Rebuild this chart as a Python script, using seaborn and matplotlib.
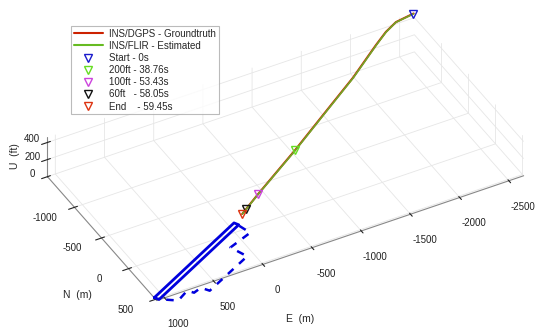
import numpy as np
import pandas as pd
import seaborn as sns
import matplotlib as mpl
import matplotlib.pyplot as plt
from matplotlib.lines import Line2D

sns.set_style("white")
plt.rcParams['font.family'] = ['Liberation Sans', 'DejaVu Sans']
plt.rcParams['axes.unicode_minus'] = False
plt.rcParams['grid.color'] = '#e6e6e6'
plt.rcParams['grid.linewidth'] = 0.6

# trajectory (E, N in m, U in ft)
est_E = [-2639, -2454, -2321, -2170, -1797, -1404, -923, -385, -215, -156]
est_N = [-1498, -1488, -1428, -1333, -1080, -851, -559, -271, -180, -145]
est_U = [450, 430, 410, 385, 330, 265, 200, 100, 60, 50]

gt_E = [-2642, -2457, -2322, -2168, -1795, -1402, -921, -384, -214, -155]
gt_N = [-1500, -1490, -1431, -1335, -1082, -853, -561, -272, -181, -146]
gt_U = [452, 431, 411, 386, 331, 266, 201, 101, 61, 51]

# runway outline and dashed outline on the ground
runway_E = [1078, -60, -84, 1054, 1078]
runway_N = [473, -124, -80, 517, 473]
taxi_E = [-81, -119, 137, 67, 597, 646, 733, 774, 911, 1012]
taxi_N = [-64, 68, 169, 351, 623, 548, 581, 527, 612, 541]

event_names = ['Start - 0s', '200ft - 38.76s', '100ft - 53.43s', '60ft   - 58.05s', 'End    - 59.45s']
event_idx = [0, 6, 7, 8, 9]
event_colors = ['#1a1acc', '#66dd22', '#cc44dd', '#111111', '#dd3311']

df = pd.DataFrame({'E': est_E, 'N': est_N, 'U': est_U})

fig = plt.figure(figsize=(5.5, 3.32), dpi=100)
ax = fig.add_axes([0.011, 0.015, 1, 1], projection='3d')
ax.set_proj_type('ortho')
ax.view_init(elev=38.4, azim=61.3)
ax.set_box_aspect((425, 231, 51), zoom=1.4)

ax.plot(gt_E, gt_N, gt_U, color='#cc2200', lw=1.5)
ax.plot(df['E'], df['N'], df['U'], color='#70a828', lw=1.2)
for i, c in zip(event_idx, event_colors):
    ax.plot([est_E[i]], [est_N[i]], [est_U[i]], marker='v', ms=6, mfc='none', mec=c, mew=1, ls='none')

ax.plot(runway_E, runway_N, np.zeros(len(runway_E)), color='#0000dd', lw=2)
ax.plot(taxi_E, taxi_N, np.zeros(len(taxi_E)), color='#0000dd', lw=1.8, ls=(0, (3, 3)))

ax.set_xlim(-2650, 1080)
ax.set_ylim(-1500, 520)
ax.set_zlim(0, 460)
ax.set_xticks([-2500, -2000, -1500, -1000, -500, 0, 500, 1000])
ax.set_yticks([-1000, -500, 0, 500])
ax.set_zticks([0, 200, 400])
ax.tick_params(labelsize=7, colors='#222222', pad=0)
ax.tick_params(axis='x', pad=8)
ax.tick_params(axis='y', pad=2)
ax.tick_params(axis='z', pad=-4)
for t in ax.get_yticklabels() + ax.get_zticklabels():
    t.set_va('baseline')
for a in (ax.xaxis, ax.yaxis, ax.zaxis):
    a.set_pane_color((1, 1, 1, 0))
    a.line.set_color('#888888')
    a.line.set_linewidth(0.8)

fig.text(0.545, 0.04, 'E  (m)', fontsize=7.5, ha='center', va='center')
fig.text(0.14, 0.11, 'N  (m)', fontsize=7.5, ha='center', va='center')
fig.text(0.027, 0.53, 'U  (ft)', fontsize=7.5, ha='center', va='center', rotation=90)

handles = [Line2D([], [], color='#cc2200', lw=1.5), Line2D([], [], color='#66bb22', lw=1.5)]
handles += [Line2D([], [], marker='v', ms=6, mfc='none', mec=c, mew=1, ls='none') for c in event_colors]
labels = ['INS/DGPS - Groundtruth', 'INS/FLIR - Estimated'] + event_names
leg = fig.legend(handles, labels, loc='upper left', bbox_to_anchor=(0.12, 0.937), fontsize=7,
                 frameon=True, fancybox=False, edgecolor='#aaaaaa', handlelength=3, labelspacing=0.22,
                 borderpad=0.3, handletextpad=0.6)
leg.get_frame().set_linewidth(0.8)

fig.savefig('out.png', dpi=100)
